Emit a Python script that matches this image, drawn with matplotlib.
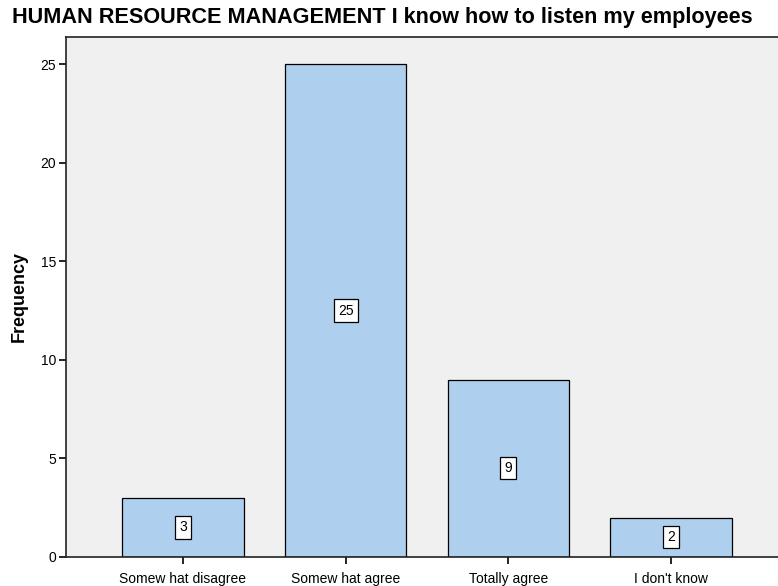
import matplotlib
matplotlib.use("Agg")
import numpy as np
import matplotlib.pyplot as plt

categories = ["Somew hat disagree", "Somew hat agree", "Totally agree", "I don't know"]
counts     = [3, 25, 9, 2]
y_ticks    = [0, 5, 10, 15, 20, 25]

plt.rcParams['font.family'] = ['Liberation Sans', 'DejaVu Sans']

fig = plt.figure(figsize=(7.78, 5.86), dpi=100)
# axes box runs past the right edge of the figure
ax = fig.add_axes([66 / 778, 29 / 586, 740 / 778, 520 / 586])
ax.set_facecolor("#f0f0f0")

x = np.arange(len(categories))
bars = ax.bar(x, counts, width=0.747, color="#aecfee", edgecolor="black", linewidth=0.9, zorder=2)

for xi, c in zip(x, counts):
    ax.text(xi, c / 2, str(c), ha="center", va="center", fontsize=10,
            bbox=dict(boxstyle="square,pad=0.3", facecolor="white", edgecolor="black", linewidth=0.9),
            zorder=3)

ax.set_xlim(-0.719, 3.83)
ax.set_ylim(0, 26.37)
ax.set_xticks(x)
ax.set_xticklabels(categories, fontsize=10)
ax.set_yticks(y_ticks)
ax.tick_params(axis="both", direction="out", length=5, width=1.2, labelsize=10, colors="black")
ax.tick_params(axis="x", pad=6)
ax.tick_params(axis="y", pad=2)

for side in ["left", "bottom", "top"]:
    ax.spines[side].set_linewidth(1.2)
    ax.spines[side].set_color("#222222")

ax.set_ylabel("Frequency", fontsize=13, fontweight="bold", labelpad=9)
fig.text(12 / 778, 1 - 18 / 586, "HUMAN RESOURCE MANAGEMENT I know how to listen my employees",
         fontsize=15.6, fontweight="bold", ha="left", va="center")

plt.savefig("out.png", dpi=100)
